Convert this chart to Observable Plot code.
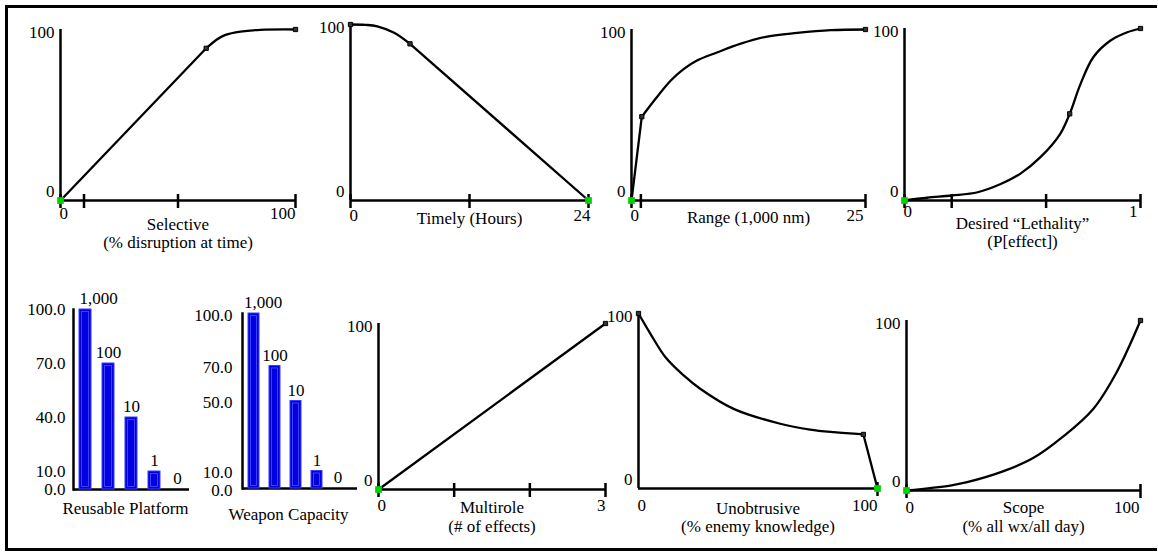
<!DOCTYPE html>
<html><head><meta charset="utf-8">
<script src="https://cdn.jsdelivr.net/npm/d3@7"></script>
<script src="https://cdn.jsdelivr.net/npm/@observablehq/plot@0.6"></script>
<style>
html,body{margin:0;padding:0;background:#fff;}
#root{position:relative;width:1158px;height:552px;overflow:hidden;background:#fff;font-family:"Liberation Serif","Times New Roman","DejaVu Serif",serif;}
#border{position:absolute;left:5px;top:5px;width:1152px;height:546px;border-left:3px solid #000;border-top:3px solid #000;border-bottom:3px solid #000;box-sizing:border-box;}
svg text{font-family:"Liberation Serif","Times New Roman","DejaVu Serif",serif !important;}
</style></head><body><div id="root"><div id="border"></div></div>
<script>
// ---------- DATA ----------
// Selective (% disruption at time)
const selectiveTicks = [0, 10, 50, 100];
const selectiveStraight = [[0, 0], [62, 89]];
const selectiveCurve = [[62, 89], [66.7, 94.3], [70.2, 96.9], [76.6, 98.8], [85, 99.8], [100, 100]];
const selectiveMarkers = [[62, 89], [100, 100]];
const selectiveStart = [[0, 0]];
// Timely (Hours)
const timelyTicks = [0, 12, 24];
const timelyCurve = [[0, 100], [1.5, 99.8], [2.7, 99], [4.4, 95.3], [6, 89]];
const timelyStraight = [[6, 89], [24, 0]];
const timelyMarkers = [[0, 100], [6, 89]];
const timelyStart = [[24, 0]];
// Range (1,000 nm)
const rangeTicks = [0, 1, 25];
const rangeStraight = [[0, 0], [1.1, 49]];
const rangeCurve = [[1.1, 49], [2.7, 60.4], [4.2, 70.2], [5.6, 77], [7, 81.9], [9.2, 86.7], [11.6, 91.6], [14.5, 95.9], [17.7, 98], [21.3, 99.6], [25, 100]];
const rangeMarkers = [[1.1, 49], [25, 100]];
const rangeStart = [[0, 0]];
// Desired Lethality (P[effect])
const lethalTicks = [0, 0.2, 0.6, 1];
const lethalCurve = [[0, 0], [0.096, 1.6], [0.2, 2.9], [0.31, 4.8], [0.41, 9.7], [0.49, 15.5], [0.576, 25.2], [0.66, 38.8], [0.70, 50.4], [0.746, 67.8], [0.80, 83.3], [0.873, 93], [0.944, 97.8], [1, 100]];
const lethalMarkers = [[0.70, 50.4], [1, 100]];
const lethalStart = [[0, 0]];
// Multirole (# of effects)
const multiTicks = [0, 1, 2, 3];
const multiStraight = [[0, 0], [3, 100]];
const multiMarkers = [[3, 100]];
const multiStart = [[0, 0]];
// Unobtrusive (% enemy knowledge)
const unobTicks = [100];
const unobCurve = [[0, 100], [5, 88.4], [11.3, 75], [18.9, 64.6], [25.8, 57], [39.8, 45.5], [59.3, 37], [71.8, 33.7], [81.7, 32.2], [94.1, 30.9]];
const unobStraight = [[94.1, 30.9], [100, 0]];
const unobMarkers = [[0, 100], [94.1, 30.9]];
const unobStart = [[100, 0]];
// Scope (% all wx/all day)
const scopeTicks = [0, 100];
const scopeCurve = [[0, 0], [18.7, 2.9], [25.9, 4.9], [41.5, 11.4], [54.3, 19.2], [67, 31.8], [79.8, 48], [89.8, 69.6], [100, 100]];
const scopeMarkers = [[100, 100]];
const scopeStart = [[0, 0]];
// Bars
const barCategories = ["1,000", "100", "10", "1", "0"];
const platformValues = [100, 70, 40, 10, 0];
const platformTicks = [100, 70, 40, 10, 0];
const capacityValues = [100, 70, 50, 10, 0];
const capacityTicks = [100, 70, 50, 10, 0];

// ---------- RENDER ----------
const FONT = "Liberation Serif, Times New Roman, DejaVu Serif, serif";
const FS = 17;
const root = document.getElementById("root");
const SVGSTYLE = "font-family:'Liberation Serif','Times New Roman',serif;font-size:17px;overflow:visible;background:none;max-width:none;";

function place(svg, box) {
  svg.style.position = "absolute";
  svg.style.left = box.x + "px";
  svg.style.top = box.y + "px";
  root.appendChild(svg);
}
function margins(box, f) {
  return {
    marginLeft: f.x0 - box.x, marginRight: box.x + box.w - f.x1,
    marginTop: f.top - box.y, marginBottom: box.y + box.h - f.base
  };
}
const txt = {fontFamily: FONT, fontSize: FS, fill: "#000"};

function linePanel(o) {
  const {box, frame: f} = o;
  const k = 100 / (f.base - f.top);
  const [xmin, xmax] = o.xDomain;
  const marks = [
    Plot.ruleX([xmin], {stroke: "#000", strokeWidth: 2.5}),
    Plot.ruleY([0], {stroke: "#000", strokeWidth: 2.5}),
    Plot.ruleX(o.ticks, {x: d => d, y1: -8 * k, y2: 6 * k, stroke: "#000", strokeWidth: 2.5})
  ];
  for (const seg of o.straight) marks.push(Plot.line(seg, {x: d => d[0], y: d => d[1], stroke: "#000", strokeWidth: 2.3, strokeLinejoin: "round"}));
  for (const seg of o.smooth) marks.push(Plot.line(seg, {x: d => d[0], y: d => d[1], curve: "catmull-rom", stroke: "#000", strokeWidth: 2.3, strokeLinejoin: "round"}));
  marks.push(Plot.dot(o.markers, {x: d => d[0], y: d => d[1], symbol: "square", r: 2.4, fill: "#333", stroke: "#000", strokeWidth: 1}));
  marks.push(Plot.dot(o.green, {x: d => d[0], y: d => d[1], symbol: "square", r: 3.8, fill: "#00d200", stroke: "none"}));
  // y labels
  marks.push(Plot.text([o.yLabels[0]], {...txt, x: xmin, y: 100, dx: -6, dy: -3.5, textAnchor: "end", lineAnchor: "top"}));
  marks.push(Plot.text([o.yLabels[1]], {...txt, x: xmin, y: 0, dx: -6, dy: -15.5, textAnchor: "end", lineAnchor: "top"}));
  // x labels
  marks.push(Plot.text([o.xLabels[0]], {...txt, x: xmin, y: 0, dx: -1, dy: o.xLabDy, textAnchor: "start", lineAnchor: "top"}));
  marks.push(Plot.text([o.xLabels[1]], {...txt, x: xmax, y: 0, dx: o.xEndDx || 0, dy: o.xLabDy, textAnchor: "end", lineAnchor: "top"}));
  // title
  marks.push(Plot.text([o.title], {...txt, frameAnchor: "bottom", dy: o.titleDy, lineAnchor: "top", lineHeight: 1.1}));
  const svg = Plot.plot({
    width: box.w, height: box.h, ...margins(box, f),
    style: SVGSTYLE,
    x: {domain: o.xDomain, axis: null},
    y: {domain: [0, 100], axis: null},
    marks
  });
  place(svg, box);
}

function barPanel(o) {
  const {box, frame: f} = o;
  const data = o.cats.map((c, i) => ({cat: c, value: o.values[i]}));
  const svg = Plot.plot({
    width: box.w, height: box.h, ...margins(box, f),
    style: SVGSTYLE,
    x: {type: "band", domain: o.cats, paddingInner: 0.5, paddingOuter: o.po, align: o.align, axis: null},
    y: {domain: [0, 100], axis: null},
    marks: [
      Plot.ruleY([0], {stroke: "#000", strokeWidth: 2.5}),
      Plot.frame({anchor: "left", stroke: "#000", strokeWidth: 2.5}),
      Plot.barY(data.filter(d => d.value > 0), {x: "cat", y: "value", fill: "#0000e0", stroke: "#3a3aff", strokeWidth: 1}),
      Plot.barY(data.filter(d => d.value > 0), {x: "cat", y: "value", fill: "none", stroke: "#5050ff", strokeWidth: 0.8, inset: 2.5}),
      Plot.text(data.slice(0, 1), {...txt, x: "cat", y: "value", text: "cat", dx: o.firstDx, dy: o.barLabDy}),
      Plot.text(data.slice(1), {...txt, x: "cat", y: "value", text: "cat", dy: o.barLabDy}),
      Plot.text(o.ticks, {...txt, y: d => d, text: d => d3.format(".1f")(d), frameAnchor: "left", dx: o.yLabDx, dy: o.yLabDy, textAnchor: "end"}),
      Plot.text([o.title], {...txt, frameAnchor: "bottom", dx: o.titleDx, dy: o.titleDy, lineAnchor: "top"})
    ]
  });
  place(svg, box);
}

linePanel({box: {x: 10, y: 10, w: 295, h: 245}, frame: {x0: 60, x1: 295, top: 29, base: 200},
  xDomain: [0, 100], ticks: selectiveTicks, straight: [selectiveStraight], smooth: [selectiveCurve],
  markers: selectiveMarkers, green: selectiveStart, yLabels: ["100", "0"], xLabels: ["0", "100"],
  xLabDy: 6, title: "Selective\n(% disruption at time)", titleDy: 16});
linePanel({box: {x: 305, y: 10, w: 295, h: 245}, frame: {x0: 350, x1: 588, top: 24, base: 200},
  xDomain: [0, 24], ticks: timelyTicks, straight: [timelyStraight], smooth: [timelyCurve],
  markers: timelyMarkers, green: timelyStart, yLabels: ["100", "0"], xLabels: ["0", "24"],
  xLabDy: 8, xEndDx: 2, title: "Timely (Hours)", titleDy: 10.5});
linePanel({box: {x: 600, y: 10, w: 280, h: 245}, frame: {x0: 631, x1: 865, top: 29, base: 200},
  xDomain: [0, 25], ticks: rangeTicks, straight: [rangeStraight], smooth: [rangeCurve],
  markers: rangeMarkers, green: rangeStart, yLabels: ["100", "0"], xLabels: ["0", "25"],
  xLabDy: 8.7, xEndDx: -2, title: "Range (1,000 nm)", titleDy: 9});
linePanel({box: {x: 880, y: 10, w: 270, h: 245}, frame: {x0: 904, x1: 1140, top: 28, base: 200},
  xDomain: [0, 1], ticks: lethalTicks, straight: [], smooth: [lethalCurve],
  markers: lethalMarkers, green: lethalStart, yLabels: ["100", "0"], xLabels: ["0", "1"],
  xLabDy: 4.7, xEndDx: -3, title: "Desired \u201cLethality\u201d\n(P[effect])", titleDy: 15});

barPanel({box: {x: 10, y: 270, w: 185, h: 270}, frame: {x0: 73, x1: 189, top: 309, base: 489},
  cats: barCategories, values: platformValues, ticks: platformTicks, po: 0.27, align: 0.5,
  yLabDx: -8, yLabDy: 0, barLabDy: -11, firstDx: 13, title: "Reusable Platform", titleDx: -6, titleDy: 12.3});
barPanel({box: {x: 195, y: 270, w: 170, h: 270}, frame: {x0: 242, x1: 357, top: 313, base: 488},
  cats: barCategories, values: capacityValues, ticks: capacityTicks, po: 0.45, align: 0.31,
  yLabDx: -10, yLabDy: 2, barLabDy: -10.5, firstDx: 9, title: "Weapon Capacity", titleDx: -11.5, titleDy: 19.3});

linePanel({box: {x: 365, y: 270, w: 250, h: 270}, frame: {x0: 378, x1: 605, top: 323, base: 489},
  xDomain: [0, 3], ticks: multiTicks, straight: [multiStraight], smooth: [],
  markers: multiMarkers, green: multiStart, yLabels: ["100", "0"], xLabels: ["0", "3"],
  xLabDy: 9, title: "Multirole\n(# of effects)", titleDy: 10.7});
linePanel({box: {x: 615, y: 270, w: 270, h: 270}, frame: {x0: 638, x1: 877, top: 313, base: 488},
  xDomain: [0, 100], ticks: unobTicks, straight: [unobStraight], smooth: [unobCurve],
  markers: unobMarkers, green: unobStart, yLabels: ["100", "0"], xLabels: ["0", "100"],
  xLabDy: 10.3, title: "Unobtrusive\n(% enemy knowledge)", titleDy: 12});
linePanel({box: {x: 885, y: 270, w: 265, h: 270}, frame: {x0: 906, x1: 1140, top: 320, base: 490},
  xDomain: [0, 100], ticks: scopeTicks, straight: [], smooth: [scopeCurve],
  markers: scopeMarkers, green: scopeStart, yLabels: ["100", "0"], xLabels: ["0", "100"],
  xLabDy: 10.7, xEndDx: -1, title: "Scope\n(% all wx/all day)", titleDy: 9.7});
</script>
</body></html>
